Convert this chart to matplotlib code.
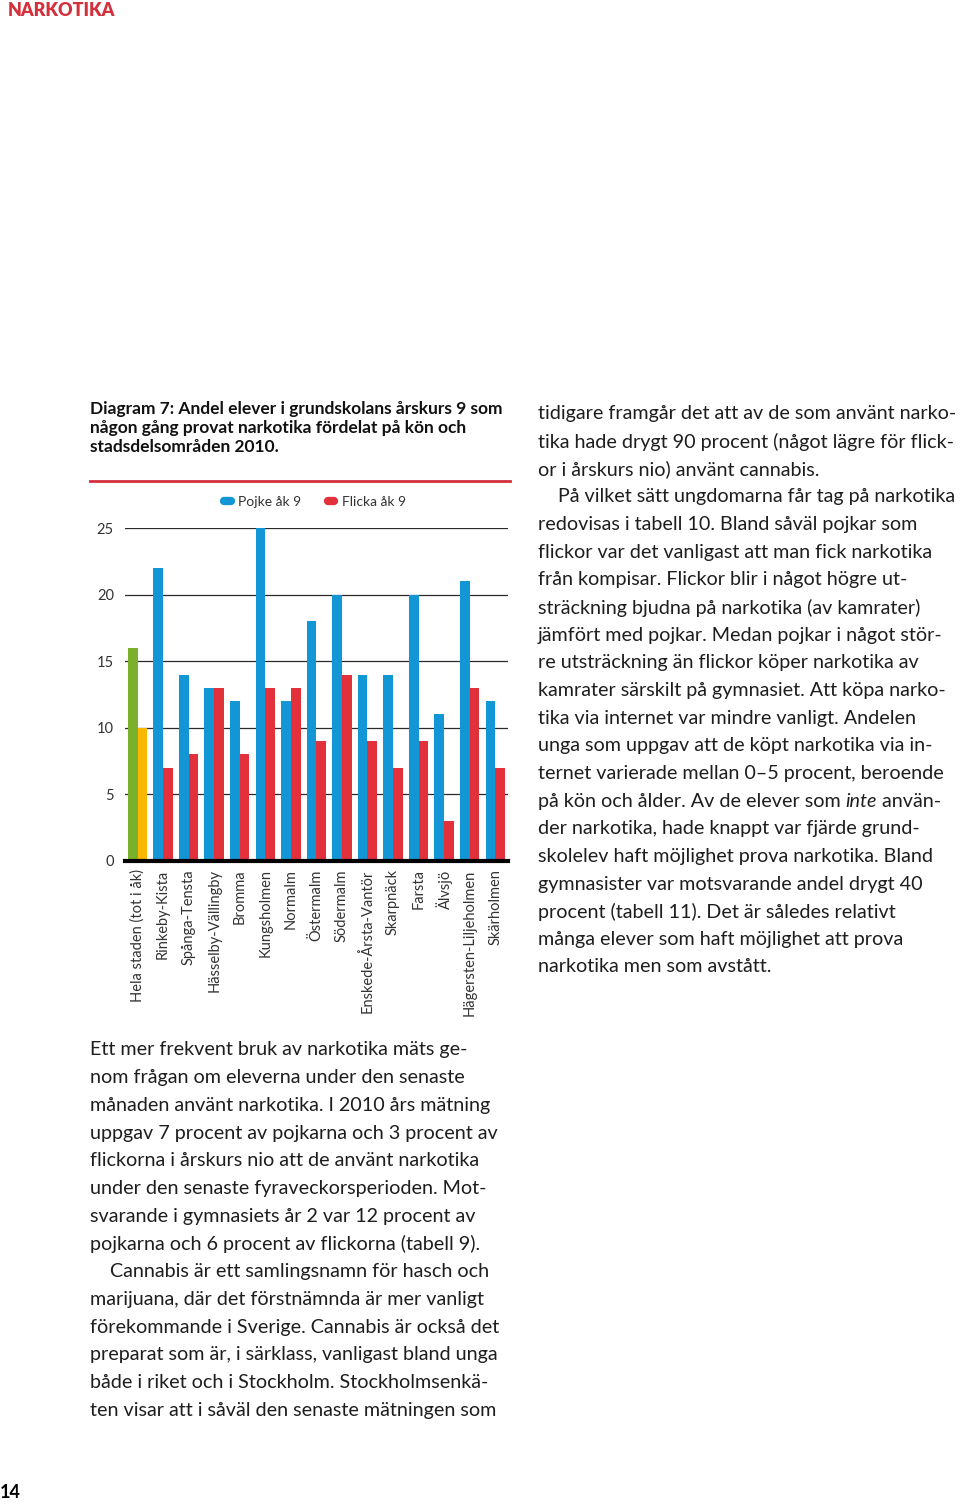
import numpy as np
import matplotlib
matplotlib.use("Agg")
import matplotlib.pyplot as plt
from matplotlib.lines import Line2D

plt.rcParams['font.family'] = ['Lato', 'DejaVu Sans']

districts = ['Hela staden (tot i åk)', 'Rinkeby-Kista', 'Spånga-Tensta', 'Hässelby-Vällingby',
             'Bromma', 'Kungsholmen', 'Normalm', 'Östermalm', 'Södermalm',
             'Enskede-Årsta-Vantör', 'Skarpnäck', 'Farsta', 'Älvsjö',
             'Hägersten-Liljeholmen', 'Skärholmen']
boys = [16, 22, 14, 13, 12, 25, 12, 18, 20, 14, 14, 20, 11, 21, 12]
girls = [10, 7, 8, 13, 8, 13, 13, 9, 14, 9, 7, 9, 3, 13, 7]
yticks = [0, 5, 10, 15, 20, 25]

right_lines = [
    "tidigare framgår det att av de som använt narko-",
    "tika hade drygt 90 procent (något lägre för flick-",
    "or i årskurs nio) använt cannabis.",
    "På vilket sätt ungdomarna får tag på narkotika",
    "redovisas i tabell 10. Bland såväl pojkar som",
    "flickor var det vanligast att man fick narkotika",
    "från kompisar. Flickor blir i något högre ut-",
    "sträckning bjudna på narkotika (av kamrater)",
    "jämfört med pojkar. Medan pojkar i något stör-",
    "re utsträckning än flickor köper narkotika av",
    "kamrater särskilt på gymnasiet. Att köpa narko-",
    "tika via internet var mindre vanligt. Andelen",
    "unga som uppgav att de köpt narkotika via in-",
    "ternet varierade mellan 0–5 procent, beroende",
    None,
    "der narkotika, hade knappt var fjärde grund-",
    "skolelev haft möjlighet prova narkotika. Bland",
    "gymnasister var motsvarande andel drygt 40",
    "procent (tabell 11). Det är således relativt",
    "många elever som haft möjlighet att prova",
    "narkotika men som avstått.",
]
left_lines = [
    "Ett mer frekvent bruk av narkotika mäts ge-",
    "nom frågan om eleverna under den senaste",
    "månaden använt narkotika. I 2010 års mätning",
    "uppgav 7 procent av pojkarna och 3 procent av",
    "flickorna i årskurs nio att de använt narkotika",
    "under den senaste fyraveckorsperioden. Mot-",
    "svarande i gymnasiets år 2 var 12 procent av",
    "pojkarna och 6 procent av flickorna (tabell 9).",
    "Cannabis är ett samlingsnamn för hasch och",
    "marijuana, där det förstnämnda är mer vanligt",
    "förekommande i Sverige. Cannabis är också det",
    "preparat som är, i särklass, vanligast bland unga",
    "både i riket och i Stockholm. Stockholmsenkä-",
    "ten visar att i såväl den senaste mätningen som",
]

W, H = 960, 1504
fig = plt.figure(figsize=(9.6, 15.04), dpi=100)

def fx(px):
    return px / W

def fy(py):
    return 1 - py / H

blue = '#1396d6'
red = '#e2313b'
green = '#7bb02c'
yellow = '#f9b700'

ax = fig.add_axes([fx(125), fy(861), fx(508 - 125), fy(528) - fy(861)])
x = np.arange(len(districts))
w = 0.38
bc = [green] + [blue] * (len(districts) - 1)
gc = [yellow] + [red] * (len(districts) - 1)
ax.bar(x - w / 2, boys, width=w, color=bc, zorder=3)
ax.bar(x + w / 2, girls, width=w, color=gc, zorder=3)
ax.set_xlim(-0.49, 14.5)
ax.set_ylim(0, 25)
ax.set_yticks(yticks)
ax.set_yticklabels([str(v) for v in yticks], fontsize=10.5, color='#333333')
for v in yticks[1:]:
    ax.axhline(v, color='#2a2a2a', lw=0.9, zorder=1)
ax.axhline(0, color='black', lw=3, zorder=4, clip_on=False)
for s in ax.spines.values():
    s.set_visible(False)
ax.tick_params(axis='y', length=0, pad=8)
ax.tick_params(axis='x', length=0, pad=6)
ax.set_xticks(x)
ax.set_xticklabels(districts, rotation=90, fontsize=10.5, color='#333333', va='top', ha='center')

handles = [Line2D([0], [0], color=blue, lw=6, solid_capstyle='round'),
           Line2D([0], [0], color=red, lw=6, solid_capstyle='round')]
fig.legend(handles, ['Pojke åk 9', 'Flicka åk 9'], loc='center',
           bbox_to_anchor=(fx(315), fy(502)), ncol=2, frameon=False,
           fontsize=10, handlelength=0.45, handletextpad=0.55, columnspacing=1.9,
           labelcolor='#333333')

# top red rule above chart
fig.add_artist(Line2D([fx(90), fx(510)], [fy(481), fy(481)], color='#d4303c', lw=2))

fig.text(fx(8), fy(11), 'NARKOTIKA', color='#d4303c', fontsize=13, fontweight='heavy',
         va='center', ha='left')

title = ["Diagram 7: Andel elever i grundskolans årskurs 9 som",
         "någon gång provat narkotika fördelat på kön och",
         "stadsdelsområden 2010."]
for i, t in enumerate(title):
    fig.text(fx(90), fy(409 + 19 * i), t, fontsize=12.5, fontweight='bold',
             color='#111111', va='center', ha='left')

body = dict(fontsize=14.25, color='#1e1e1e', va='center', ha='left')
fig.canvas.draw()
renderer = fig.canvas.get_renderer()
for i, t in enumerate(right_lines):
    y = fy(414 + 27.65 * i)
    if t is None:
        parts = [("på kön och ålder. Av de elever som ", 'normal'),
                 ("inte", 'italic'), (" använ-", 'normal')]
        xp = fx(538)
        for s, st in parts:
            tx = fig.text(xp, y, s, style=st, **body)
            bb = tx.get_window_extent(renderer)
            xp += bb.width / W
        continue
    xo = 558 if i == 3 else 538
    fig.text(fx(xo), y, t, **body)

for i, t in enumerate(left_lines):
    xo = 110 if i == 8 else 90
    fig.text(fx(xo), fy(1050 + 27.7 * i), t, **body)

fig.text(fx(0), fy(1492), '14', fontsize=13, fontweight='bold', color='black',
         va='center', ha='left')

fig.savefig('out.png', dpi=100)
